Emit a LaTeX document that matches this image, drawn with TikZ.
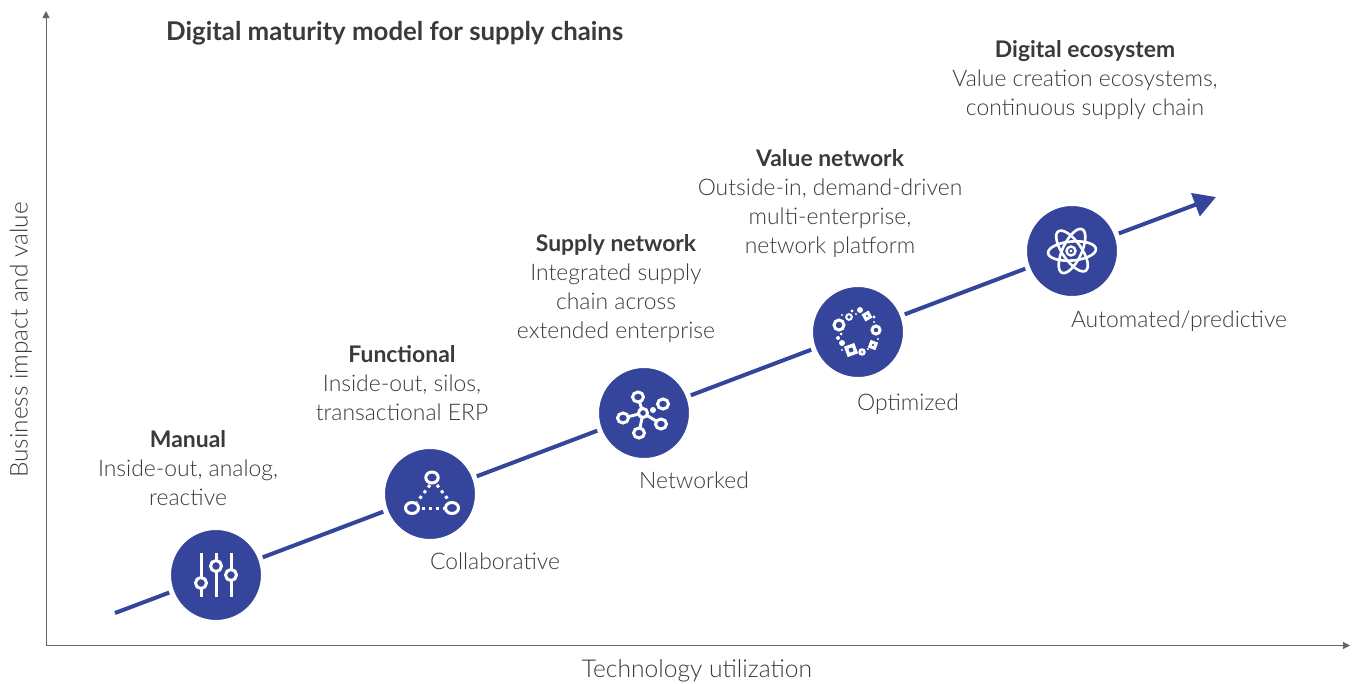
\documentclass[tikz,border=0pt]{standalone}
\usepackage{fontspec}
\setmainfont{Lato}[UprightFont=* Light,BoldFont=* Bold]
\usetikzlibrary{arrows.meta}
\definecolor{mainblue}{HTML}{34459B}
\definecolor{txt}{HTML}{3A3A3A}
\definecolor{axisc}{HTML}{666666}
\tikzset{
  stage/.style={circle,fill=mainblue,draw=white,line width=5pt,minimum size=95pt,inner sep=0pt},
  flow/.style={draw=mainblue,line width=4pt},
  axisline/.style={draw=axisc,line width=1pt,-{Triangle[length=7pt,width=7pt]}},
  lab/.style={text=txt,font=\fontsize{22.9}{29}\selectfont,align=center,inner sep=0pt},
  ring/.style={draw=white,line width=3pt},
  thin/.style={draw=white,line width=3pt},
  wdot/.style={fill=white},
}
\begin{document}
\begin{tikzpicture}[x=1pt,y=-1pt]
\useasboundingbox (0,0) rectangle (1352,683);
\coordinate (origin) at (46,645.5);
\coordinate (ytip) at (46,11);
\coordinate (xtip) at (1350,645.5);
\draw[axisline] (origin) -- (ytip);
\draw[axisline] (origin) -- (xtip);
\node[stage] (c1) at (216,575) {};
\node[stage] (c2) at (430,494) {};
\node[stage] (c3) at (644,413) {};
\node[stage] (c4) at (858,332) {};
\node[stage] (c5) at (1072,251) {};
\coordinate (start) at (115,613);
\coordinate (tip) at (1216,197);
\draw[flow] (start) -- (c1);
\draw[flow] (c1) -- (c2);
\draw[flow] (c2) -- (c3);
\draw[flow] (c3) -- (c4);
\draw[flow,-{Triangle[length=22pt,width=24pt]}] (c5) -- (tip);
\draw[flow] (c4) -- (c5);
% sliders
\begin{scope}[shift={(c1)}]
\foreach \x/\k in {-15/8,0/-9,15/0}{
  \draw[thin] (\x,-22) -- (\x,22);
  \draw[ring,fill=mainblue] (\x,\k) circle (5.5pt);
}
\end{scope}
% triangle
\begin{scope}[shift={(c2)}]
\draw[white,line width=3pt,dash pattern=on 3pt off 4pt] (0,-9) -- (-13,8);
\draw[white,line width=3pt,dash pattern=on 3pt off 4pt] (7,-9) -- (20,8);
\draw[white,line width=3pt,dash pattern=on 3pt off 4pt] (-8,14) -- (14,14);
\draw[ring] (2,-16.5) ellipse (6.2pt and 5.5pt);
\draw[ring] (-18,14) ellipse (6.5pt and 5.5pt);
\draw[ring] (22,14) ellipse (6.5pt and 5.5pt);
\end{scope}
% network
\begin{scope}[shift={(c3)}]
\foreach \x/\y in {-6/-16,-21/5,17/11,-5/20}{
  \draw[thin] (-1,0) -- (\x,\y);
}
\foreach \x/\y in {-6/-16,19/-9,-21/5,17/11,-5/20}{
  \draw[ring,fill=mainblue] (\x,\y) ellipse (5.5pt and 5pt);
}
\draw[ring,fill=mainblue] (-1,0) circle (4.5pt);
\fill[wdot] (9,-3) circle (3pt);
\end{scope}
% ring of dots
\begin{scope}[shift={(c4)}]
\draw[ring] (-19,-7) circle (5pt);
\draw[ring,line width=2pt] (-9,-15) circle (2.8pt);
\draw[ring] (18,-2) circle (4pt);
\foreach \x/\y/\r in {2/-22/3,-6/-21/1.6,-2/-18/1.2,16/-15/1.6,16/-10/1.2,20/7/1.2,10/17/1.2,4/20/3.8,-16/18/1.2,-16/11/3,-20/6/2,-17/2/1.5,-16/-17/1.2}{
  \fill[wdot] (\x,\y) circle (\r pt);
}
\fill[mainblue] (4,20) circle (1pt);
\fill[wdot,rotate around={30:(9,-16)}] (5,-20) rectangle (13,-12);
\fill[mainblue,rotate around={30:(9,-16)}] (8.2,-16.8) rectangle (9.8,-15.2);
\fill[wdot,rotate around={-20:(15,13)}] (11,9) rectangle (19,17);
\fill[mainblue,rotate around={-20:(15,13)}] (14.2,12.2) rectangle (15.8,13.8);
\fill[wdot,rotate around={20:(-7,18)}] (-12.5,12.5) rectangle (-1.5,23.5);
\fill[mainblue,rotate around={20:(-7,18)}] (-9,16) rectangle (-5,20);
\end{scope}
% atom
\begin{scope}[shift={(c5)}]
\foreach \a in {5,65,125}{
  \draw[white,line width=2.6pt,rotate=\a] (0,0) ellipse (24pt and 9.5pt);
}
\draw[ring,line width=2.4pt] (-1,0) circle (4.5pt);
\fill[wdot] (-1,0) circle (1.6pt);
\end{scope}
% texts
\node[lab,anchor=west,font=\fontsize{25.8}{29}\selectfont\bfseries] (title) at (166,33) {Digital maturity model for supply chains};
\node[lab] (m) at (188,468) {\textbf{Manual}\\Inside-out, analog,\\reactive};
\node[lab] (f) at (402,383) {\textbf{Functional}\\Inside-out, silos,\\transactional ERP};
\node[lab] (s) at (616,289) {\textbf{Supply network}\\Integrated supply\\chain across\\extended enterprise};
\node[lab] (v) at (830,204) {\textbf{Value network}\\Outside-in, demand-driven\\multi-enterprise,\\network platform};
\node[lab] (d) at (1085,80) {\textbf{Digital ecosystem}\\Value creation ecosystems,\\continuous supply chain};
\node[lab] (n2) at (495,561) {Collaborative};
\node[lab] (n3) at (694,480) {Networked};
\node[lab] (n4) at (908,404) {Optimized};
\node[lab] (n5) at (1179,321) {Automated/predictive};
\node[lab,font=\fontsize{24.6}{29}\selectfont] (xl) at (697,671) {Technology utilization};
\node[lab,rotate=90,font=\fontsize{24.4}{29}\selectfont] (yl) at (21,340) {Business impact and value};
\end{tikzpicture}
\end{document}
